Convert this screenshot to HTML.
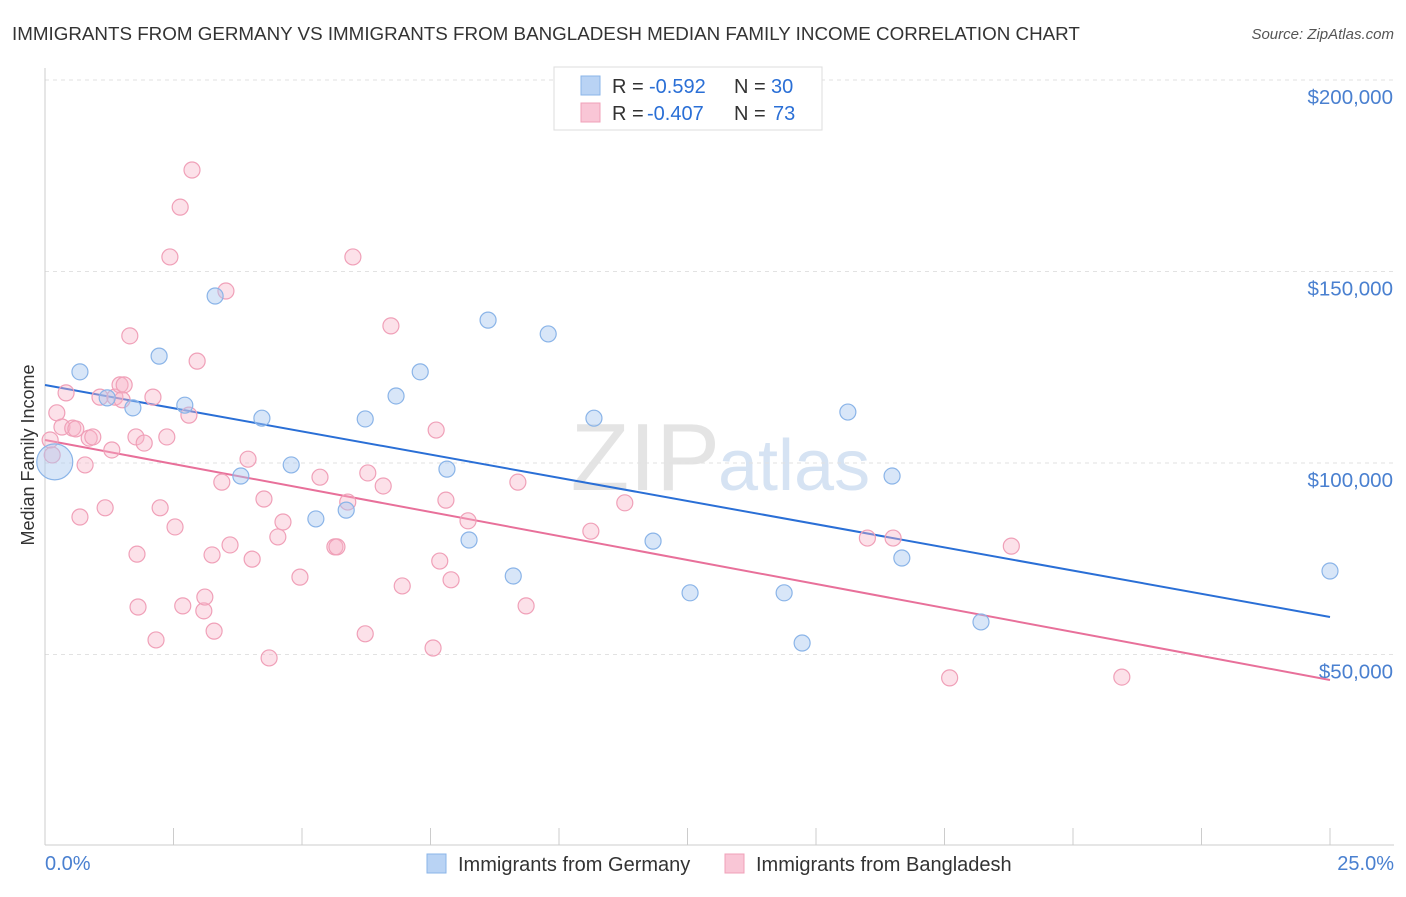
<!DOCTYPE html>
<html><head><meta charset="utf-8"><style>
body{margin:0;background:#fff;font-family:"Liberation Sans",sans-serif;}
svg text{font-family:"Liberation Sans",sans-serif;}
</style></head><body>
<svg id="chart" width="1406" height="892">
<text x="12" y="40" font-size="18.8" fill="#333">IMMIGRANTS FROM GERMANY VS IMMIGRANTS FROM BANGLADESH MEDIAN FAMILY INCOME CORRELATION CHART</text>
<text x="1394" y="39" font-size="15" fill="#555" text-anchor="end" font-style="italic">Source: ZipAtlas.com</text>
<text x="720" y="490" font-size="96" fill="#e4e4e4" text-anchor="end" font-family="Liberation Serif">ZIP</text>
<text x="718" y="490" font-size="72" fill="#d6e3f3">atlas</text>
<g id="grid"></g><g id="axes"></g><g id="lines"></g><g id="pts"></g>
<text transform="translate(34,455) rotate(-90)" font-size="18" fill="#333" text-anchor="middle">Median Family Income</text>
<text x="45" y="870" font-size="20" fill="#4a80d0">0.0%</text>
<text x="1394" y="870" font-size="20" fill="#4a80d0" text-anchor="end">25.0%</text>
<g>
<rect x="554" y="67" width="268" height="63" fill="#fff" stroke="#ddd"/>
<rect x="581" y="76" width="19" height="19" fill="#b9d3f4" stroke="#8ab4e8"/>
<rect x="581" y="103" width="19" height="19" fill="#f9c6d6" stroke="#f0a0b8"/>
<text x="612" y="93" font-size="20" fill="#333">R =</text>
<text x="649" y="93" font-size="20" fill="#2a6fd6">-0.592</text>
<text x="734" y="93" font-size="20" fill="#333">N =</text>
<text x="771" y="93" font-size="20" fill="#2a6fd6">30</text>
<text x="612" y="120" font-size="20" fill="#333">R =</text>
<text x="647" y="120" font-size="20" fill="#2a6fd6">-0.407</text>
<text x="734" y="120" font-size="20" fill="#333">N =</text>
<text x="773" y="120" font-size="20" fill="#2a6fd6">73</text>
</g>
<g>
<rect x="427" y="854" width="19" height="19" fill="#b9d3f4" stroke="#8ab4e8"/>
<text x="458" y="871" font-size="20" fill="#333">Immigrants from Germany</text>
<rect x="725" y="854" width="19" height="19" fill="#f9c6d6" stroke="#f0a0b8"/>
<text x="756" y="871" font-size="20" fill="#333">Immigrants from Bangladesh</text>
</g>
</svg>
<script>
const yTicks=[50000,100000,150000,200000];
const yTickLabels=["$50,000","$100,000","$150,000","$200,000"];
const xTicks=[0,2.5,5,7.5,10,12.5,15,17.5,20,22.5,25];
const germanyX=[0.19,0.68,1.21,1.71,2.22,2.72,3.31,3.81,4.22,4.79,5.27,5.86,6.23,6.83,7.30,7.82,8.25,8.62,9.11,9.79,10.68,11.83,12.55,14.38,14.73,15.62,16.48,16.67,18.21,25.0];
const germanyY=[100.3,123.8,117.0,114.4,127.9,115.1,143.6,96.6,111.7,99.5,85.4,87.7,111.5,117.5,123.8,98.4,79.9,137.3,70.5,133.7,111.7,79.6,66.1,66.1,53.0,113.3,96.6,75.2,58.5,71.8];
const bangX=[0.10,0.14,0.23,0.33,0.41,0.54,0.60,0.68,0.78,0.86,0.93,1.07,1.17,1.30,1.36,1.46,1.54,1.65,1.79,1.81,1.77,1.93,2.10,2.16,2.24,2.37,2.43,2.53,2.63,2.68,2.80,2.86,2.96,3.09,3.11,3.25,3.29,3.44,3.52,3.60,3.95,4.03,4.26,4.36,4.53,4.63,4.96,5.35,5.64,5.68,5.89,5.99,6.23,6.28,6.58,6.73,6.95,7.55,7.61,7.68,7.80,7.90,8.23,9.20,9.36,10.62,11.28,16.0,16.5,17.6,18.8,20.95,1.5];
const bangY=[106.0,102.1,113.1,109.4,118.3,109.1,108.9,85.9,99.5,106.5,106.8,117.2,88.3,103.4,117.2,120.4,120.4,133.2,76.2,62.4,106.8,105.2,117.2,53.8,88.3,106.8,153.8,83.3,166.8,62.7,112.5,176.5,126.6,61.4,65.0,76.0,56.1,95.0,144.9,78.6,101.0,74.9,90.6,49.1,80.7,84.6,70.2,96.3,78.1,78.1,89.8,153.8,55.4,97.4,94.0,135.8,67.9,51.7,108.6,74.4,90.3,69.5,84.9,95.0,62.7,82.2,89.6,80.4,80.4,43.9,78.3,44.1,116.5];
const germanyTrend=[120366,59791];
const bangTrend=[106005,43346];
const NS="http://www.w3.org/2000/svg";
const xs=p=>45+p*(1330-45)/25;
const ys=v=>463-(v-100000)*191.5/50000;
function mk(t,a,par){const e=document.createElementNS(NS,t);for(const k in a)e.setAttribute(k,a[k]);document.getElementById(par).appendChild(e);return e;}
yTicks.forEach((v,i)=>{
 const g=mk('line',{x1:45,x2:1394,y1:ys(v),y2:ys(v),stroke:'#e2e2e2','stroke-dasharray':'4,4'},'grid');
 
 
 const t=mk('text',{x:1393,y:ys(v)+24,'font-size':20.5,fill:'#4a80d0','text-anchor':'end'},'axes');
 t.textContent=yTickLabels[i];
 
 
});
const ax=mk('line',{x1:45,x2:1394,y1:845,y2:845,stroke:'#ccc'},'axes');


const ay=mk('line',{x1:45,x2:45,y1:68,y2:845,stroke:'#ccc'},'axes');


xTicks.forEach(p=>{
 const t=mk('line',{x1:xs(p),x2:xs(p),y1:828,y2:845,stroke:'#ccc'},'axes');
 
 
});
function pts(X,Y,fill,stroke,name){
 X.forEach((x,i)=>{
  const r=(name==='germany-point'&&i===0)?18:8;
  const c=mk('circle',{cx:xs(x),cy:ys(Y[i]*1000),r:r,fill:fill,stroke:stroke,'stroke-width':1.2},'pts');
  
  
 });
}
pts(bangX,bangY,'rgba(248,180,200,0.4)','#f0a0b8','bangladesh-point');
pts(germanyX,germanyY,'rgba(168,200,240,0.45)','#8ab4e8','germany-point');
const l1=mk('line',{x1:xs(0),y1:ys(germanyTrend[0]),x2:xs(25),y2:ys(germanyTrend[1]),stroke:'#2a6fd6','stroke-width':2},'lines');


const l2=mk('line',{x1:xs(0),y1:ys(bangTrend[0]),x2:xs(25),y2:ys(bangTrend[1]),stroke:'#e8709a','stroke-width':2},'lines');


</script>
</body></html>
